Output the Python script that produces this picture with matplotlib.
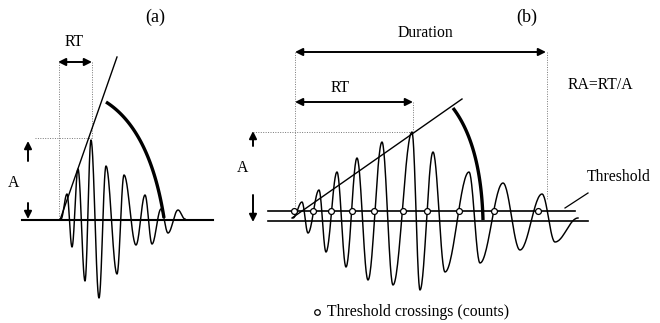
import numpy as np
import matplotlib.pyplot as plt
from matplotlib.patches import FancyArrowPatch

# Extrema of the burst signal in panel (a), drawing units (x right, y down)
wave_a_x = [61, 67, 72, 78, 85, 91, 99, 106, 117, 124, 136, 145, 152, 161, 168, 178, 185]
wave_a_y = [219, 194, 247, 169, 281, 140, 298, 166, 274, 175, 245, 195, 244, 209, 233, 210, 219]

# Extrema of the signal in panel (b)
wave_b_x = [293, 302, 308, 319, 326, 337, 346, 357, 368, 382, 393, 412, 420,
            433, 445, 469, 480, 503, 520, 542, 555, 578]
wave_b_y = [218, 202, 233, 190, 252, 172, 267, 158, 280, 142, 285, 132, 290,
            152, 272, 172, 263, 183, 250, 194, 242, 218]

# Threshold crossings (counts) in panel (b)
crossing_x = [294, 313, 331, 352, 374, 403, 427, 459, 494, 538]

baseline_a = 220
baseline_b = 221
threshold_b = 211

FONT = 'Liberation Serif'
FS = 11.3


def smooth_wave(xs, ys, n=30):
    """Join successive extrema with half-cosine segments."""
    px, py = [], []
    for i in range(len(xs) - 1):
        t = np.linspace(0, 1, n)
        px.extend(xs[i] + (xs[i + 1] - xs[i]) * t)
        py.extend(ys[i] + (ys[i + 1] - ys[i]) * (1 - np.cos(np.pi * t)) / 2)
    return np.array(px), np.array(py)


def bezier(p0, c, p2, n=60):
    t = np.linspace(0, 1, n)[:, None]
    pts = (1 - t) ** 2 * np.array(p0) + 2 * (1 - t) * t * np.array(c) + t ** 2 * np.array(p2)
    return pts[:, 0], pts[:, 1]


def arrow(ax, p0, p1, style='<|-|>', scale=11):
    ax.add_patch(FancyArrowPatch(p0, p1, arrowstyle=style, mutation_scale=scale,
                                 color='black', lw=1.4, shrinkA=0, shrinkB=0))


def dotted(ax, xs, ys):
    ax.plot(xs, ys, color='#777777', lw=0.7, ls=(0, (1, 1.5)))


fig = plt.figure(figsize=(6.6, 3.23), dpi=100)
ax = fig.add_axes([0, 0, 1, 1])
ax.set_xlim(0, 660)
ax.set_ylim(323, 0)
ax.axis('off')

# ---- panel (a)
ax.text(155, 17, '(a)', fontsize=13, family=FONT, ha='center', va='center')
ax.text(74, 42, 'RT', fontsize=FS, family=FONT, ha='center', va='center')
arrow(ax, (58, 62), (92, 62))
dotted(ax, [59, 59], [62, 220])
dotted(ax, [92, 92], [62, 138])
dotted(ax, [35, 92], [138, 138])
arrow(ax, (28, 161), (28, 141), style='-|>')
arrow(ax, (28, 203), (28, 219), style='-|>')
ax.text(14, 183, 'A', fontsize=FS, family=FONT, ha='center', va='center')

ax.plot([22, 213], [baseline_a, baseline_a], color='black', lw=1.5)
wx, wy = smooth_wave(wave_a_x, wave_a_y)
ax.plot(wx, wy, color='black', lw=1.05)
ax.plot([60, 117], [220, 57], color='black', lw=1.0)
bx, by = bezier((106, 102), (150, 130), (164, 218))
ax.plot(bx, by, color='black', lw=2.4, solid_capstyle='butt')

# ---- panel (b)
ax.text(527, 17, '(b)', fontsize=13, family=FONT, ha='center', va='center')
ax.text(425, 33, 'Duration', fontsize=FS, family=FONT, ha='center', va='center')
arrow(ax, (295, 52), (546, 52))
dotted(ax, [295, 295], [52, 212])
dotted(ax, [547, 547], [52, 200])
ax.text(600, 85, 'RA=RT/A', fontsize=FS, family=FONT, ha='center', va='center')
ax.text(340, 88, 'RT', fontsize=FS, family=FONT, ha='center', va='center')
arrow(ax, (295, 102), (413, 102))
dotted(ax, [413, 413], [102, 132])
dotted(ax, [253, 413], [132, 132])
arrow(ax, (253, 146), (253, 131), style='-|>')
arrow(ax, (253, 195), (253, 222), style='-|>')
ax.text(243, 168, 'A', fontsize=FS, family=FONT, ha='center', va='center')

ax.plot([268, 575], [threshold_b, threshold_b], color='black', lw=1.2)
ax.plot([268, 588], [baseline_b, baseline_b], color='black', lw=1.2)
ax.text(587, 177, 'Threshold', fontsize=FS, family=FONT, ha='left', va='center')
ax.plot([588, 565], [193, 208], color='black', lw=0.9)

wx, wy = smooth_wave(wave_b_x, wave_b_y)
ax.plot(wx, wy, color='black', lw=1.05)
ax.plot([292, 462], [218, 99], color='black', lw=1.0)
bx, by = bezier((453, 108), (481, 145), (483, 220))
ax.plot(bx, by, color='black', lw=2.4, solid_capstyle='butt')

ax.scatter(crossing_x, [threshold_b] * len(crossing_x), s=18, facecolor='white',
           edgecolor='black', linewidths=0.9, zorder=5)

# legend for the crossing markers
ax.scatter([317], [312], s=16, facecolor='white', edgecolor='black', linewidths=0.9)
ax.text(327, 312, 'Threshold crossings (counts)', fontsize=FS, family=FONT,
        ha='left', va='center')

fig.savefig('out.png', dpi=100, facecolor='white')
